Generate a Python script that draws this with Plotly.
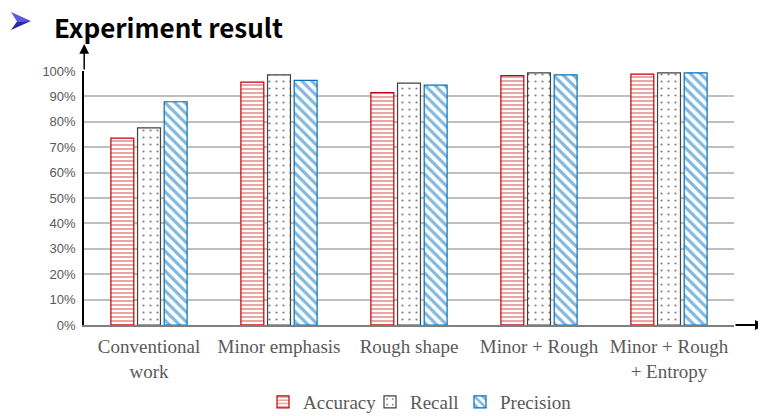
import plotly.graph_objects as go

categories = ["Conventional<br>work", "Minor emphasis", "Rough shape", "Minor + Rough", "Minor + Rough<br>+ Entropy"]
accuracy = [0.736, 0.956, 0.915, 0.982, 0.988]
recall = [0.776, 0.985, 0.952, 0.993, 0.993]
precision = [0.879, 0.963, 0.944, 0.985, 0.993]
y_ticks = [0, 0.1, 0.2, 0.3, 0.4, 0.5, 0.6, 0.7, 0.8, 0.9, 1.0]
y_tick_text = ["0%", "10%", "20%", "30%", "40%", "50%", "60%", "70%", "80%", "90%", "100%"]

# the page body adds an 8px offset; work in screen pixels and subtract it
OFF = 8
W, H = 766 - OFF, 416 - OFF
L, R, T, B = 84 - OFF, 734 - OFF, 71 - OFF, 325 - OFF

def px(x):
    return (x - OFF - L) / (R - L)

def py(y):
    return (B - (y - OFF)) / (B - T)

fig = go.Figure()
fig.add_trace(go.Bar(
    name="Accuracy", x=categories, y=accuracy, legendwidth=62,
    marker=dict(color="white", line=dict(color="#c00000", width=1.2),
                pattern=dict(shape="-", fgcolor="#c00000", bgcolor="white", size=4, solidity=0.35)),
))
fig.add_trace(go.Bar(
    name="Recall", x=categories, y=recall, legendwidth=45,
    marker=dict(color="white", line=dict(color="#404040", width=1.2),
                pattern=dict(shape=".", fgcolor="#000000", bgcolor="white", size=7, solidity=0.08)),
))
fig.add_trace(go.Bar(
    name="Precision", x=categories, y=precision,
    marker=dict(color="white", line=dict(color="#0070c0", width=1.2),
                pattern=dict(shape="\\", fgcolor="#0070c0", bgcolor="white", size=7, solidity=0.45)),
))

fig.update_layout(
    width=W, height=H,
    margin=dict(l=L, r=W - R, t=T, b=H - B, autoexpand=False),
    paper_bgcolor="white", plot_bgcolor="white",
    barmode="group", bargap=0.385, bargroupgap=0.14,
    showlegend=True,
    legend=dict(orientation="h", x=px(420), xanchor="center", y=py(383), yanchor="top",
                font=dict(family="Liberation Serif", size=19, color="#595959"),
                itemwidth=30, traceorder="normal"),
    xaxis=dict(showline=True, linecolor="#7f7f7f", linewidth=2, ticks="",
               tickfont=dict(family="Liberation Serif", size=19, color="#595959"),
               showgrid=False, fixedrange=True, automargin=False, ticklabelstandoff=3),
    yaxis=dict(range=[0, 1.0], tickvals=y_ticks, ticktext=y_tick_text,
               showline=True, linecolor="#000000", linewidth=1.5,
               showgrid=True, gridcolor="#bfbfbf", gridwidth=1.8, zeroline=False,
               tickfont=dict(family="Liberation Sans", size=13, color="#595959"),
               ticks="", ticklabelstandoff=4, automargin=False),
)

# y axis arrow extension
fig.add_annotation(xref="paper", yref="paper", x=px(84.2), y=py(44), ax=0, ay=27,
                   axref="pixel", ayref="pixel", showarrow=True, arrowhead=2, arrowsize=1.3,
                   arrowwidth=1.5, arrowcolor="#000000", text="")
# x axis arrow extension
fig.add_annotation(xref="paper", yref="paper", x=px(765), y=py(325), ax=-31, ay=0,
                   axref="pixel", ayref="pixel", showarrow=True, arrowhead=2, arrowsize=1.0,
                   arrowwidth=2, arrowcolor="#000000", text="")
# title
fig.add_annotation(xref="paper", yref="paper", x=px(52), y=py(26), xanchor="left", yanchor="middle",
                   text="<b>Experiment result</b>", showarrow=False,
                   font=dict(family="Noto Sans CJK JP", size=26, color="#000000"))
# bullet arrow (drawn as shapes)
def pth(points):
    return "M " + " L ".join(f"{px(a)},{py(b)}" for a, b in points) + " Z"

fig.add_shape(type="path", xref="paper", yref="paper",
              path=pth([(11, 12), (31, 21), (17, 21.5)]),
              fillcolor="#5a5ae0", line=dict(width=0))
fig.add_shape(type="path", xref="paper", yref="paper",
              path=pth([(17, 21.5), (31, 21), (11, 30)]),
              fillcolor="#2a2aa8", line=dict(width=0))

fig.write_html("out.html")
